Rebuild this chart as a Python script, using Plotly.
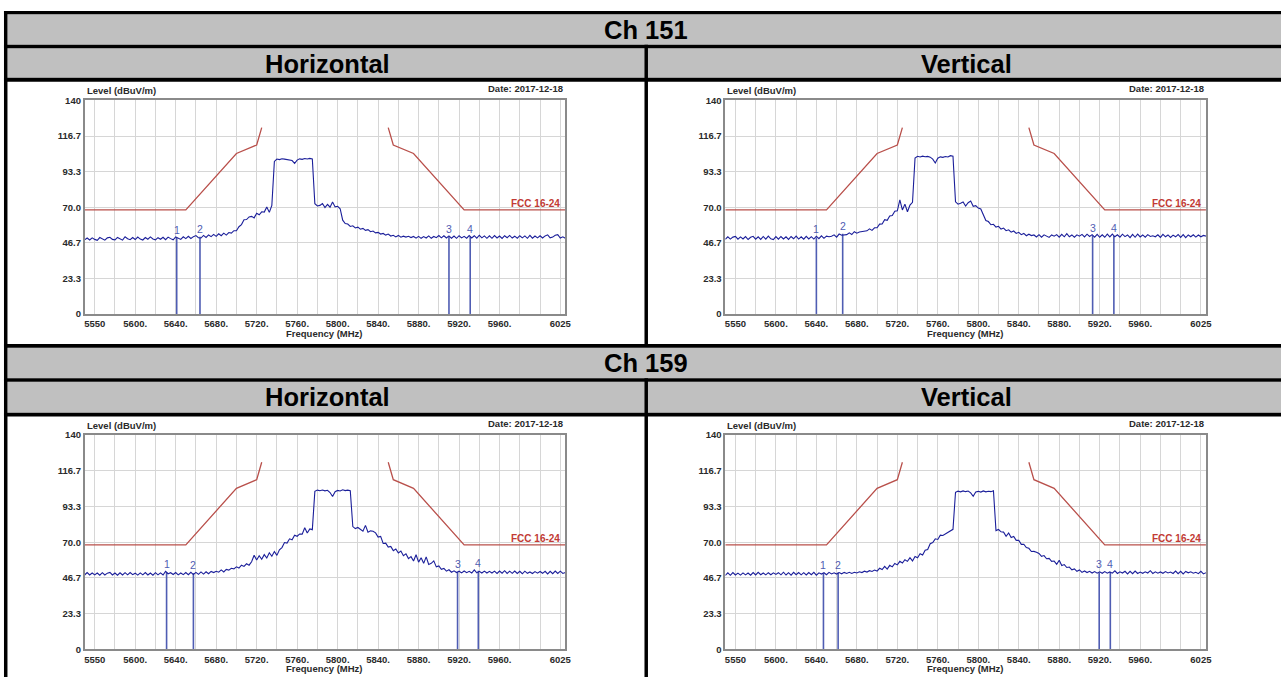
import plotly.graph_objects as go

W, H = 1287, 682

# ---------------- data ----------------
FREQ_START = 5550.0   # MHz, first sweep point
FREQ_STEP = 2.5       # MHz between sweep points

CH151_H = [
    48.6, 49.8, 48.5, 49.9, 48.9, 48.3, 50.1, 49.0, 48.4, 49.9,
    50.3, 48.9, 48.6, 50.2, 49.2, 48.4, 50.6, 49.3, 48.7, 50.1,
    48.8, 50.4, 49.1, 48.5, 50.1, 49.0, 50.5, 49.2, 48.6, 50.0,
    49.0, 50.3, 48.7, 50.4, 49.4, 48.6, 50.5, 49.5, 48.9, 50.6,
    49.4, 50.9, 49.5, 50.7, 51.4, 50.0, 49.8, 51.5, 50.2, 51.8,
    50.7, 52.2, 50.9, 52.6, 51.3, 53.0, 51.7, 53.4, 53.0, 54.6,
    54.6, 57.2, 58.6, 61.8, 61.9, 63.6, 64.0, 63.0, 66.0, 65.0,
    67.0, 66.8, 70.2, 66.6, 71.2, 100.0, 101.6, 101.2, 101.8, 101.5,
    101.3, 101.0, 100.6, 98.8, 100.9, 101.7, 101.4, 101.9, 101.6, 102.0,
    101.6, 72.3, 70.8, 71.2, 72.4, 69.8, 71.9, 70.0, 73.4, 70.2,
    70.6, 69.0, 61.5, 59.3, 59.0, 57.4, 57.8, 56.4, 56.9, 55.6,
    56.1, 54.8, 55.3, 53.9, 54.4, 53.2, 53.5, 52.4, 52.8, 51.7,
    52.4, 51.1, 51.6, 50.5, 51.5, 50.3, 51.0, 50.4, 50.9, 50.1,
    50.8, 49.7, 50.9, 49.6, 50.7, 49.8, 51.2, 49.6, 50.8, 50.0,
    51.4, 49.9, 51.3, 49.8, 51.2, 49.7, 51.1, 49.6, 51.3, 49.9,
    50.9, 49.7, 51.4, 49.8, 51.3, 49.7, 51.6, 49.9, 51.2, 49.6,
    51.2, 49.6, 51.4, 49.8, 51.1, 49.5, 51.3, 50.0, 51.5, 49.8,
    51.0, 49.7, 51.3, 49.9, 51.2, 49.6, 51.5, 49.7, 51.1, 49.9,
    51.3, 49.8, 51.2, 51.9, 49.9, 50.4, 51.6, 52.0, 49.8, 50.6,
    49.6,
]

CH151_V = [
    49.0, 50.6, 49.1, 50.4, 50.8, 49.0, 50.5, 49.2, 50.7, 48.8,
    50.3, 50.9, 49.0, 50.6, 48.9, 50.8, 49.1, 51.0, 49.3, 48.8,
    50.7, 49.0, 50.8, 49.2, 50.6, 48.9, 50.8, 49.3, 51.0, 49.1,
    50.6, 49.0, 50.9, 49.2, 50.7, 49.1, 51.0, 49.4, 51.2, 49.6,
    51.0, 50.6, 51.0, 51.9, 50.4, 52.4, 51.6, 52.0, 52.0, 53.2,
    52.1, 53.9, 53.0, 53.8, 54.1, 54.3, 54.5, 55.8, 54.8, 56.5,
    56.5, 58.9, 59.0, 61.8, 61.4, 64.2, 64.6, 67.4, 67.6, 74.8,
    68.2, 72.0, 67.0, 71.4, 73.2, 102.2, 103.4, 102.9, 103.5, 103.1,
    103.3, 102.8, 101.5, 99.0, 102.1, 103.0, 102.7, 103.2, 102.9, 103.8,
    103.4, 73.5, 72.0, 72.6, 73.4, 70.8, 72.9, 74.0, 70.6, 71.0,
    69.4, 68.8, 64.5, 61.3, 60.6, 58.5, 58.8, 57.0, 57.5, 55.7,
    56.3, 54.6, 55.2, 53.6, 54.4, 52.8, 53.5, 52.0, 52.8, 51.3,
    52.3, 51.4, 51.8, 50.5, 52.0, 50.3, 51.9, 51.2, 50.2, 51.8,
    51.0, 52.0, 50.4, 52.2, 50.6, 52.7, 50.6, 51.8, 50.3, 51.9,
    51.0, 52.2, 50.5, 52.3, 50.8, 52.0, 50.4, 52.2, 50.3, 51.9,
    50.3, 52.3, 50.5, 52.4, 50.6, 51.9, 50.4, 52.3, 50.7, 51.8,
    50.0, 52.2, 50.3, 52.4, 50.5, 51.8, 50.3, 52.0, 50.8, 51.3,
    50.6, 51.9, 50.2, 52.2, 50.6, 51.8, 50.2, 51.7, 50.6, 52.1,
    50.2, 52.0, 50.0, 51.8, 50.6, 51.9, 50.4, 51.8, 50.6, 51.5,
    51.0,
]

CH159_H = [
    48.6, 50.2, 48.6, 49.9, 48.7, 49.9, 48.5, 50.1, 48.6, 49.8,
    50.3, 48.6, 49.9, 48.5, 50.0, 48.6, 50.1, 48.7, 50.2, 48.8,
    49.8, 48.5, 50.0, 48.7, 50.2, 48.6, 49.9, 48.5, 50.1, 48.7,
    50.0, 48.6, 51.0, 49.4, 50.1, 48.9, 50.2, 48.7, 49.9, 48.8,
    50.2, 48.8, 50.4, 48.9, 50.3, 49.0, 50.6, 49.2, 50.7, 49.4,
    50.9, 50.2, 51.0, 50.4, 51.9, 50.6, 52.2, 51.8, 53.0, 52.6,
    53.9, 53.1, 55.0, 54.2, 55.9, 55.0, 57.2, 61.5, 58.4, 61.2,
    58.9, 61.9, 59.7, 63.1, 60.8, 63.9, 61.4, 65.0, 66.5, 69.8,
    69.4, 72.2, 71.6, 74.6, 73.9, 75.4, 75.3, 79.4, 76.0, 78.7,
    78.2, 103.2, 104.0, 103.6, 104.1, 103.5, 103.9, 102.4, 99.8, 103.0,
    103.8, 103.4, 104.2, 103.7, 104.0, 103.6, 80.2, 78.9, 79.6, 78.2,
    77.2, 81.0, 76.5, 77.4, 77.2, 76.1, 73.4, 73.8, 69.2, 69.4,
    66.8, 67.2, 64.5, 65.6, 63.0, 64.2, 61.2, 62.4, 59.3, 60.6,
    57.7, 61.8, 57.0, 59.8, 56.2, 60.4, 55.5, 56.2, 57.8, 53.9,
    54.5, 52.3, 52.9, 51.1, 52.0, 50.4, 51.3, 50.2, 51.1, 50.0,
    51.2, 50.1, 51.0, 49.9, 52.0, 50.0, 51.0, 49.9, 51.1, 49.9,
    51.0, 49.9, 51.1, 49.6, 51.2, 49.8, 51.4, 49.6, 51.1, 49.7,
    51.2, 49.6, 51.0, 49.4, 51.1, 49.7, 50.6, 49.6, 50.8, 49.8,
    50.9, 49.7, 51.0, 49.3, 51.0, 49.5, 51.2, 49.6, 51.1, 49.6,
    50.3,
]

CH159_V = [
    48.3, 50.0, 48.4, 50.2, 48.6, 49.8, 48.5, 50.0, 48.7, 49.9,
    48.5, 50.2, 48.6, 50.3, 48.8, 49.9, 48.7, 50.1, 48.8, 50.0,
    49.0, 50.1, 48.7, 50.4, 48.6, 50.1, 48.5, 50.3, 48.8, 50.2,
    48.7, 50.1, 48.6, 50.2, 48.8, 50.3, 48.5, 50.0, 49.2, 50.1,
    48.8, 50.3, 49.3, 50.0, 49.2, 50.2, 49.4, 50.3, 49.6, 50.4,
    49.6, 50.4, 49.9, 50.7, 50.2, 51.1, 50.5, 51.4, 50.9, 51.8,
    51.2, 53.0, 52.2, 54.2, 52.5, 54.9, 53.9, 56.1, 55.2, 57.5,
    56.4, 58.6, 57.5, 59.9, 57.8, 60.7, 59.8, 62.5, 61.6, 64.8,
    65.2, 69.0, 69.8, 72.2, 71.8, 74.6, 74.4, 75.4, 76.7, 77.4,
    78.4, 102.6, 103.3, 102.9, 103.5, 103.0, 103.4, 102.2, 100.0, 102.8,
    103.2, 102.7, 103.5, 102.9, 103.3, 103.0, 103.6, 77.6, 78.3, 76.8,
    76.6, 73.9, 76.0, 73.1, 73.8, 71.2, 71.3, 68.6, 68.7, 66.5,
    66.0, 63.9, 64.0, 63.5, 62.7, 60.8, 61.3, 59.2, 59.4, 57.5,
    57.7, 55.6, 58.2, 54.8, 55.4, 53.5, 53.8, 52.0, 52.6, 51.0,
    51.9, 50.3, 51.2, 50.2, 51.0, 49.9, 50.8, 49.8, 50.7, 49.7,
    50.8, 49.8, 50.6, 49.8, 51.3, 49.6, 50.7, 49.9, 51.0, 49.3,
    51.0, 49.5, 51.2, 49.6, 50.5, 49.7, 50.7, 49.9, 51.4, 49.6,
    50.7, 49.8, 50.6, 49.7, 50.8, 49.9, 50.5, 49.6, 51.2, 49.5,
    51.0, 49.3, 50.9, 50.0, 50.7, 49.8, 50.4, 49.5, 51.0, 49.3,
    50.1,
]

# FCC 16-24 limit (dBuV/m)
LIMIT_LOW_F = [5550, 5650, 5700, 5720, 5725]
LIMIT_LOW_L = [68.2, 68.2, 105.2, 110.8, 122.2]
LIMIT_HIGH_F = [5850, 5855, 5875, 5925, 6025]
LIMIT_HIGH_L = [122.2, 110.8, 105.2, 68.2, 68.2]

# markers 1..4 (frequency MHz, level dBuV/m)
MK_151H_F = [5641.0, 5664.0, 5910.0, 5931.0]
MK_151H_L = [49.8, 50.6, 50.8, 50.6]
MK_151V_F = [5640.0, 5666.0, 5913.0, 5934.0]
MK_151V_L = [50.2, 52.6, 51.4, 51.2]
MK_159H_F = [5631.0, 5657.5, 5918.5, 5939.0]
MK_159H_L = [50.4, 49.8, 50.6, 51.4]
MK_159V_F = [5647.0, 5661.5, 5919.5, 5930.5]
MK_159V_L = [49.7, 50.2, 50.3, 50.5]

X_TICK_VALS = [5560, 5580, 5600, 5620, 5640, 5660, 5680, 5700, 5720, 5740, 5760, 5780,
               5800, 5820, 5840, 5860, 5880, 5900, 5920, 5940, 5960, 5980, 6000, 6020]
X_TICK_TEXT = ["5550", "", "5600.", "", "5640.", "", "5680.", "", "5720.", "", "5760.", "",
               "5800.", "", "5840.", "", "5880.", "", "5920.", "", "5960.", "", "", "6025"]
Y_TICK_VALS = [0, 23.33, 46.67, 70, 93.33, 116.67, 140]
Y_TICK_TEXT = ["0", "23.3", "46.7", "70.0", "93.3", "116.7", "140"]

CHANNELS = ["Ch 151", "Ch 159"]
POLARISATIONS = ["Horizontal", "Vertical"]
DATE_TEXT = "Date: 2017-12-18"
LIMIT_NAME = "FCC 16-24"

# ---------------- styling / layout ----------------
FONT = "Liberation Sans, Arial, sans-serif"
TRACE_COLOR = "#1b1f9a"
MARK_COLOR = "#4f5db3"
LIMIT_COLOR = "#b9504b"
GRID = "#d6d6d6"
FRAME = "#8a8a8a"
BAND = "#c0c0c0"
TXT = "#2a2a2a"


def px_x(v):
    return v / W


def px_y(v):
    return 1 - v / H


# plot rectangles in pixels: (left, right, top, bottom)
PANEL_BOXES = [
    (85.0, 568.0, 96.0, 313.0),
    (728.7, 1211.6, 96.0, 313.0),
    (85.0, 568.0, 436.0, 654.0),
    (728.7, 1211.6, 436.0, 654.0),
]
PANEL_DATA = [
    (CH151_H, MK_151H_F, MK_151H_L),
    (CH151_V, MK_151V_F, MK_151V_L),
    (CH159_H, MK_159H_F, MK_159H_L),
    (CH159_V, MK_159V_F, MK_159V_L),
]

fig = go.Figure()
layout = dict(
    width=W, height=H, margin=dict(l=0, r=0, t=0, b=0),
    paper_bgcolor="white", plot_bgcolor="white", showlegend=False,
    font=dict(family=FONT, color=TXT),
)
annotations = []
shapes = []

for k, ((x0, x1, y0, y1), (vals, mkf, mkl)) in enumerate(zip(PANEL_BOXES, PANEL_DATA)):
    assert len(vals) == 191, len(vals)
    sfx = "" if k == 0 else str(k + 1)
    xa, ya = "x" + sfx, "y" + sfx
    freq = [FREQ_START + FREQ_STEP * i for i in range(len(vals))]

    # limit line
    fig.add_trace(go.Scatter(x=LIMIT_LOW_F, y=LIMIT_LOW_L, mode="lines",
                             line=dict(color=LIMIT_COLOR, width=1.3),
                             xaxis=xa, yaxis=ya, hoverinfo="skip"))
    fig.add_trace(go.Scatter(x=LIMIT_HIGH_F, y=LIMIT_HIGH_L, mode="lines",
                             line=dict(color=LIMIT_COLOR, width=1.3),
                             xaxis=xa, yaxis=ya, hoverinfo="skip"))
    # marker lines
    mx, my = [], []
    for f, lv in zip(mkf, mkl):
        mx += [f, f, None]
        my += [0, lv, None]
    fig.add_trace(go.Scatter(x=mx, y=my, mode="lines",
                             line=dict(color=MARK_COLOR, width=1.6),
                             xaxis=xa, yaxis=ya, hoverinfo="skip"))
    # spectrum
    fig.add_trace(go.Scatter(x=freq, y=vals, mode="lines",
                             line=dict(color=TRACE_COLOR, width=1.1),
                             xaxis=xa, yaxis=ya))

    layout["xaxis" + sfx] = dict(
        domain=[px_x(x0), px_x(x1)], anchor=ya, range=[5550, 6025],
        tickmode="array", tickvals=X_TICK_VALS, ticktext=X_TICK_TEXT,
        showgrid=True, gridcolor=GRID, gridwidth=1, zeroline=False,
        showline=True, mirror=True, linecolor=FRAME, linewidth=1.5,
        ticks="", tickfont=dict(family=FONT, size=9.5, color=TXT, weight="bold"),
        fixedrange=True,
    )
    layout["yaxis" + sfx] = dict(
        domain=[px_y(y1), px_y(y0)], anchor=xa, range=[0, 140],
        tickmode="array", tickvals=Y_TICK_VALS, ticktext=Y_TICK_TEXT,
        showgrid=True, gridcolor=GRID, gridwidth=1, zeroline=False,
        showline=True, mirror=True, linecolor=FRAME, linewidth=1.5,
        ticks="", tickfont=dict(family=FONT, size=9.5, color=TXT, weight="bold"),
        fixedrange=True,
    )

    small = dict(family=FONT, size=9.5, color=TXT, weight="bold")
    annotations.append(dict(text="Level (dBuV/m)", xref=xa + " domain", yref=ya + " domain",
                            x=0, y=1, xanchor="left", yanchor="bottom", showarrow=False,
                            font=small, yshift=2))
    annotations.append(dict(text=DATE_TEXT, xref=xa + " domain", yref=ya + " domain",
                            x=1, y=1, xanchor="right", yanchor="bottom", showarrow=False,
                            font=small, yshift=4))
    annotations.append(dict(text="Frequency (MHz)", xref=xa + " domain", yref=ya + " domain",
                            x=0.5, y=0, xanchor="center", yanchor="top", showarrow=False,
                            font=small, yshift=-12))
    annotations.append(dict(text=LIMIT_NAME, xref=xa, yref=ya, x=6022, y=72.6,
                            xanchor="right", yanchor="middle", showarrow=False,
                            font=dict(family=FONT, size=10, color="#c23a34", weight="bold")))
    for i, (f, lv) in enumerate(zip(mkf, mkl)):
        annotations.append(dict(text=str(i + 1), xref=xa, yref=ya, x=f, y=lv + 5.2,
                                xanchor="center", yanchor="middle", showarrow=False,
                                font=dict(family=FONT, size=10.5, color=MARK_COLOR)))

# ---------------- table frame ----------------
def rect(xa0, ya0, xa1, ya1, color):
    return dict(type="rect", xref="paper", yref="paper",
                x0=px_x(xa0), x1=px_x(xa1), y0=px_y(ya1), y1=px_y(ya0),
                fillcolor=color, line=dict(width=0), layer="below")

BLACK = "#000000"
shapes += [
    rect(7.5, 8.5, W, 39.5, BAND),
    rect(7.5, 43, W, 73, BAND),
    rect(7.5, 347.3, W, 378.3, BAND),
    rect(7.5, 381.8, W, 413.3, BAND),
    rect(4, 5, W, 8.5, BLACK),
    rect(4, 39.5, W, 43, BLACK),
    rect(4, 73, W, 77, BLACK),
    rect(4, 343.5, W, 347.3, BLACK),
    rect(4, 378.3, W, 381.8, BLACK),
    rect(4, 413.3, W, 417.3, BLACK),
    rect(4, 5, 7.5, H, BLACK),
    rect(647.5, 39.5, 651, 343.5, BLACK),
    rect(647.5, 378.3, 651, H, BLACK),
]

head = dict(family=FONT, size=25.5, color="#000000", weight="bold")
for (cx, cy, txt) in [
    (649, 24, CHANNELS[0]), (329, 58.5, POLARISATIONS[0]), (971, 58.5, POLARISATIONS[1]),
    (649, 363, CHANNELS[1]), (329, 397.5, POLARISATIONS[0]), (971, 397.5, POLARISATIONS[1]),
]:
    annotations.append(dict(text=txt, xref="paper", yref="paper", x=px_x(cx), y=px_y(cy),
                            xanchor="center", yanchor="middle", showarrow=False, font=head))

layout["annotations"] = annotations
layout["shapes"] = shapes
fig.update_layout(**layout)
fig.write_html("out.html")
